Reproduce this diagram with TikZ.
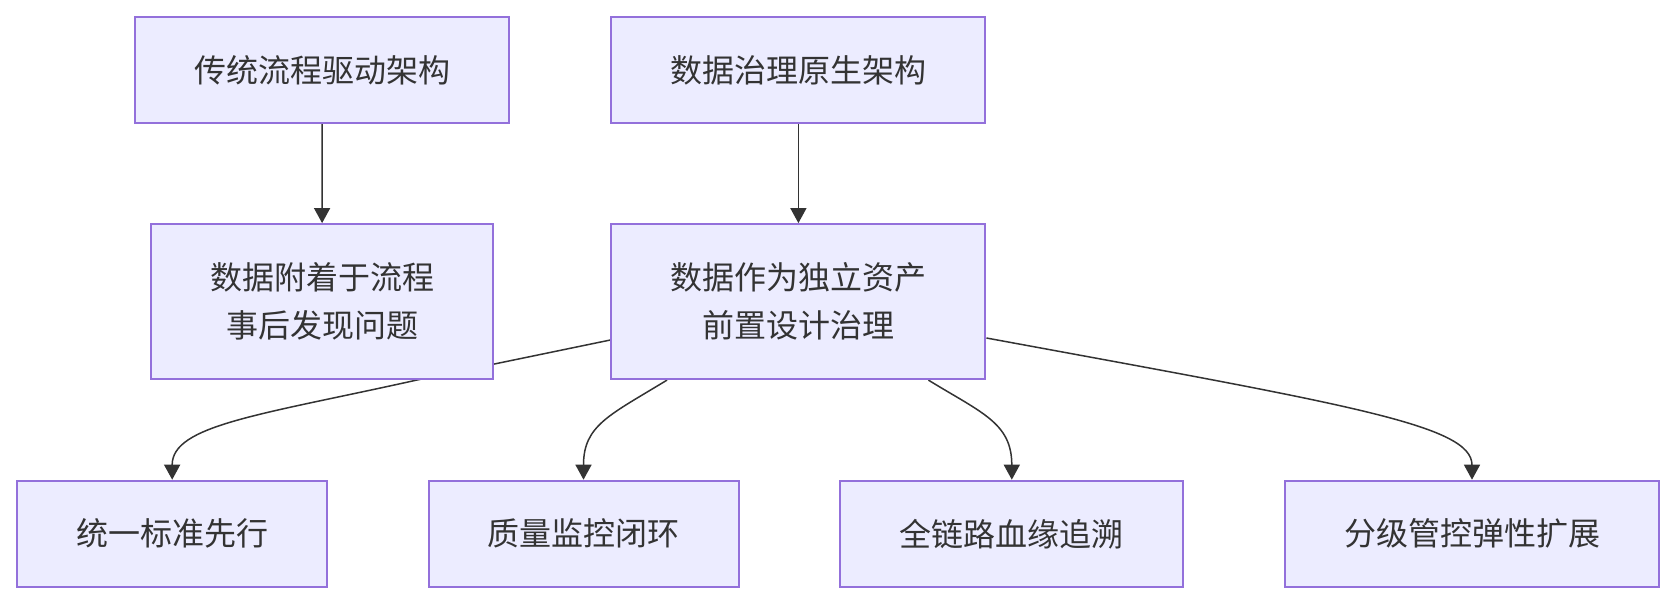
\documentclass[tikz,border=0pt]{standalone}
\usepackage{fontspec}
\newfontfamily\cjk{Noto Sans CJK SC}
\usetikzlibrary{arrows.meta,backgrounds}
\definecolor{boxfill}{HTML}{ECECFF}
\definecolor{boxline}{HTML}{9370DB}
\definecolor{ink}{HTML}{333333}
\begin{document}
\begin{tikzpicture}[x=1pt,y=-1pt,
  box/.style={draw=boxline,fill=boxfill,line width=2pt,inner sep=0pt,text=ink,
    font=\cjk\fontsize{32}{48}\selectfont,align=center},
  link/.style={draw=ink,line width=1.5pt,-{Triangle[length=15pt,width=16pt]}}]
\useasboundingbox (0,0) rectangle (1676,604);
\node[box,minimum width=374pt,minimum height=106pt] (A) at (322,70) {传统流程驱动架构};
\node[box,minimum width=374pt,minimum height=106pt] (B) at (798.4,70) {数据治理原生架构};
\node[box,minimum width=342pt,minimum height=155pt] (C) at (322.1,301.6) {数据附着于流程\\事后发现问题};
\node[box,minimum width=374pt,minimum height=155pt] (D) at (798.4,301.6) {数据作为独立资产\\前置设计治理};
\node[box,minimum width=310pt,minimum height=106pt] (E) at (172.2,533.7) {统一标准先行};
\node[box,minimum width=310pt,minimum height=106pt] (F) at (583.5,533.7) {质量监控闭环};
\node[box,minimum width=343pt,minimum height=106pt] (G) at (1011.8,533.7) {全链路血缘追溯};
\node[box,minimum width=374pt,minimum height=106pt] (H) at (1472,533.7) {分级管控弹性扩展};
\begin{scope}[on background layer]
\draw[link] (A.south) -- (C.north);
\draw[link] (B.south) -- (D.north);
\draw[link] ([yshift=-38.4pt]D.west) -- (417,380) .. controls (260,415) and (172,425) .. (E.north);
\draw[link] ([xshift=-131.4pt]D.south) .. controls (610,415) and (583.5,425) .. (F.north);
\draw[link] ([xshift=130pt]D.south) .. controls (982,413) and (1011.8,423) .. (G.north);
\draw[link] ([yshift=-36.4pt]D.east) .. controls (1350,405) and (1472,425) .. (H.north);
\end{scope}
\end{tikzpicture}
\end{document}
